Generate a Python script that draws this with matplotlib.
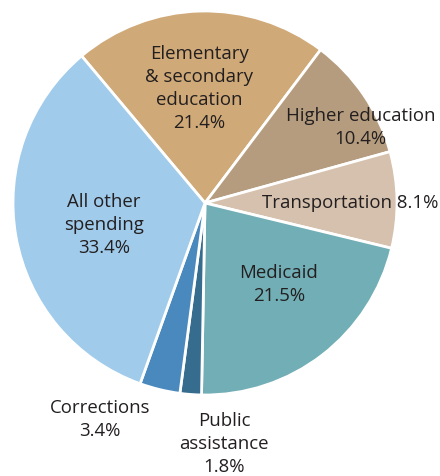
import matplotlib
matplotlib.use("Agg")
import matplotlib.pyplot as plt

# Shares of state spending, clockwise from the top
categories = ["Elementary\n& secondary\neducation", "Higher education", "Transportation",
              "Medicaid", "Public\nassistance", "Corrections", "All other\nspending"]
shares = [21.4, 10.4, 8.1, 21.5, 1.8, 3.4, 33.4]
colors = ["#CFA977", "#B59C7E", "#D5C1AD", "#71AEB5", "#366C8E", "#4A89BE", "#A0CBEB"]

# Label anchor points (pie data coordinates) and how the percentage joins the name
label_pos = [(-0.03, 0.60), (0.81, 0.40), (0.755, 0.005), (0.385, -0.42),
             (0.099, -1.25), (-0.547, -1.12), (-0.526, -0.11)]
joiners = ["\n", "\n", " ", "\n", "\n", "\n", "\n"]

plt.rcParams["font.family"] = ["Open Sans", "DejaVu Sans"]

fig = plt.figure(figsize=(4.40, 4.77), dpi=100)
ax = fig.add_axes([13 / 440, 81 / 477, 384 / 440, 384 / 477])

ax.pie(shares, colors=colors, startangle=130, counterclock=False, radius=1.0,
       wedgeprops=dict(edgecolor="white", linewidth=2.0))

for name, val, (x, y), j in zip(categories, shares, label_pos, joiners):
    ax.text(x, y, f"{name}{j}{val:.1f}%", ha="center", va="center",
            fontsize=13.4, color="#231F20", linespacing=1.36)

ax.set_xlim(-1, 1)
ax.set_ylim(-1, 1)
ax.axis("off")

fig.savefig("out.png", dpi=100, facecolor="white")
